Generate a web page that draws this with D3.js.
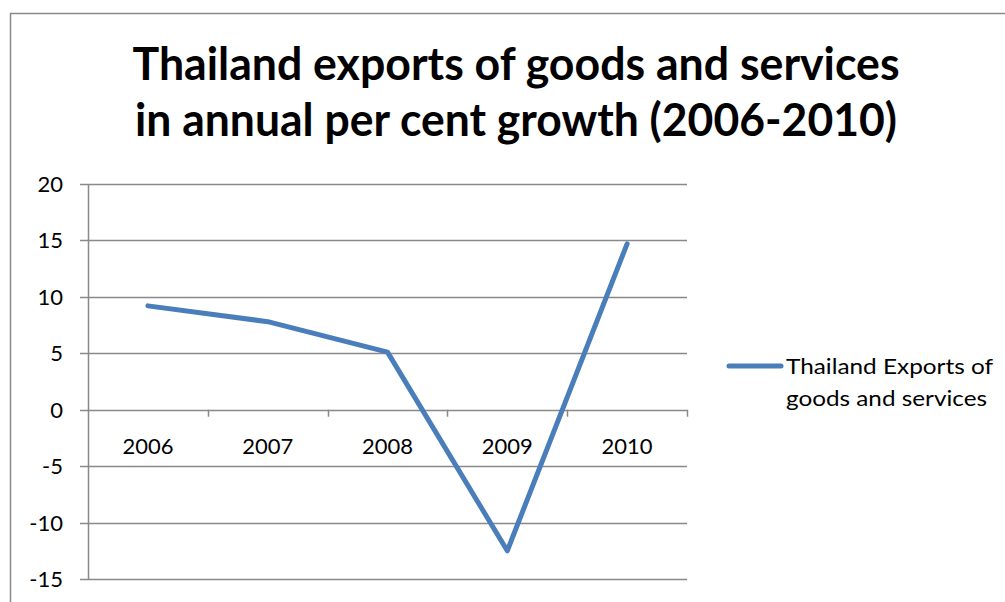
<!DOCTYPE html>
<html>
<head>
<meta charset="utf-8">
<script src="https://cdn.jsdelivr.net/npm/d3@7"></script>
<style>
  html, body { margin: 0; padding: 0; background: #fff; }
  svg { display: block; }
  text { font-family: Lato, "Open Sans", sans-serif; fill: #000; }
</style>
</head>
<body>
<svg id="chart" width="1005" height="602"></svg>
<script>
// Annual per cent growth of Thailand's exports of goods and services
const years = ["2006", "2007", "2008", "2009", "2010"];
const growth = [9.2, 7.8, 5.1, -12.5, 14.7];
const yTicks = [20, 15, 10, 5, 0, -5, -10, -15];
const titleLines = ["Thailand exports of goods and services",
                    "in annual per cent growth (2006-2010)"];
const seriesName = ["Thailand Exports of", "goods and services"];

const svg = d3.select("#chart");
const gridColor = "#898989";
const lineColor = "#4A7EBB";

// outer chart frame
svg.append("rect")
  .attr("x", 10.5).attr("y", 13.5)
  .attr("width", 1100).attr("height", 700)
  .attr("fill", "#fff").attr("stroke", gridColor).attr("stroke-width", 1.5);

// title
const titleW = [767, 762];
titleLines.forEach((t, i) => {
  svg.append("text")
    .attr("x", 516).attr("y", 80 + i * 56)
    .attr("text-anchor", "middle")
    .attr("font-size", 46).attr("font-weight", "bold")
    .attr("textLength", titleW[i]).attr("lengthAdjust", "spacingAndGlyphs")
    .text(t);
});

const plot = { left: 88, right: 687, top: 184, bottom: 579 };

const x = d3.scaleBand().domain(years).range([plot.left, plot.right]).padding(0);
const y = d3.scaleLinear().domain([-15, 20]).range([plot.bottom, plot.top]);

// horizontal gridlines
svg.append("g")
  .selectAll("line").data(yTicks).join("line")
  .attr("x1", plot.left - 8).attr("x2", plot.right)
  .attr("y1", d => Math.round(y(d)) + 0.5).attr("y2", d => Math.round(y(d)) + 0.5)
  .attr("stroke", gridColor).attr("stroke-width", 1.5);

// vertical axis
svg.append("line")
  .attr("x1", plot.left + 0.5).attr("x2", plot.left + 0.5)
  .attr("y1", plot.top).attr("y2", plot.bottom + 1)
  .attr("stroke", gridColor).attr("stroke-width", 1.5);

// y tick labels
svg.append("g")
  .selectAll("text").data(yTicks).join("text")
  .attr("x", 63).attr("y", d => y(d) + 8)
  .attr("text-anchor", "end").attr("font-size", 22)
  .text(d => d);

// category tick marks on the zero line
const catEdges = years.map(d => x(d)).concat([plot.right]);
svg.append("g")
  .selectAll("line").data(catEdges.slice(1)).join("line")
  .attr("x1", d => Math.round(d) + 0.5).attr("x2", d => Math.round(d) + 0.5)
  .attr("y1", y(0)).attr("y2", y(0) + 7)
  .attr("stroke", gridColor).attr("stroke-width", 1.5);

// category labels
svg.append("g")
  .selectAll("text").data(years).join("text")
  .attr("x", d => x(d) + x.bandwidth() / 2).attr("y", 454)
  .attr("text-anchor", "middle").attr("font-size", 22)
  .text(d => d);

// series line
const line = d3.line()
  .x((d, i) => x(years[i]) + x.bandwidth() / 2)
  .y(d => y(d));
svg.append("path")
  .datum(growth)
  .attr("d", line)
  .attr("fill", "none").attr("stroke", lineColor)
  .attr("stroke-width", 5).attr("stroke-linejoin", "round").attr("stroke-linecap", "round");

// legend
svg.append("line")
  .attr("x1", 729).attr("x2", 781).attr("y1", 366).attr("y2", 366)
  .attr("stroke", lineColor).attr("stroke-width", 5).attr("stroke-linecap", "round");
const legendW = [207, 201];
seriesName.forEach((t, i) => {
  svg.append("text")
    .attr("x", 786).attr("y", 374 + i * 32)
    .attr("font-size", 22)
    .attr("textLength", legendW[i]).attr("lengthAdjust", "spacingAndGlyphs")
    .text(t);
});
</script>
</body>
</html>
